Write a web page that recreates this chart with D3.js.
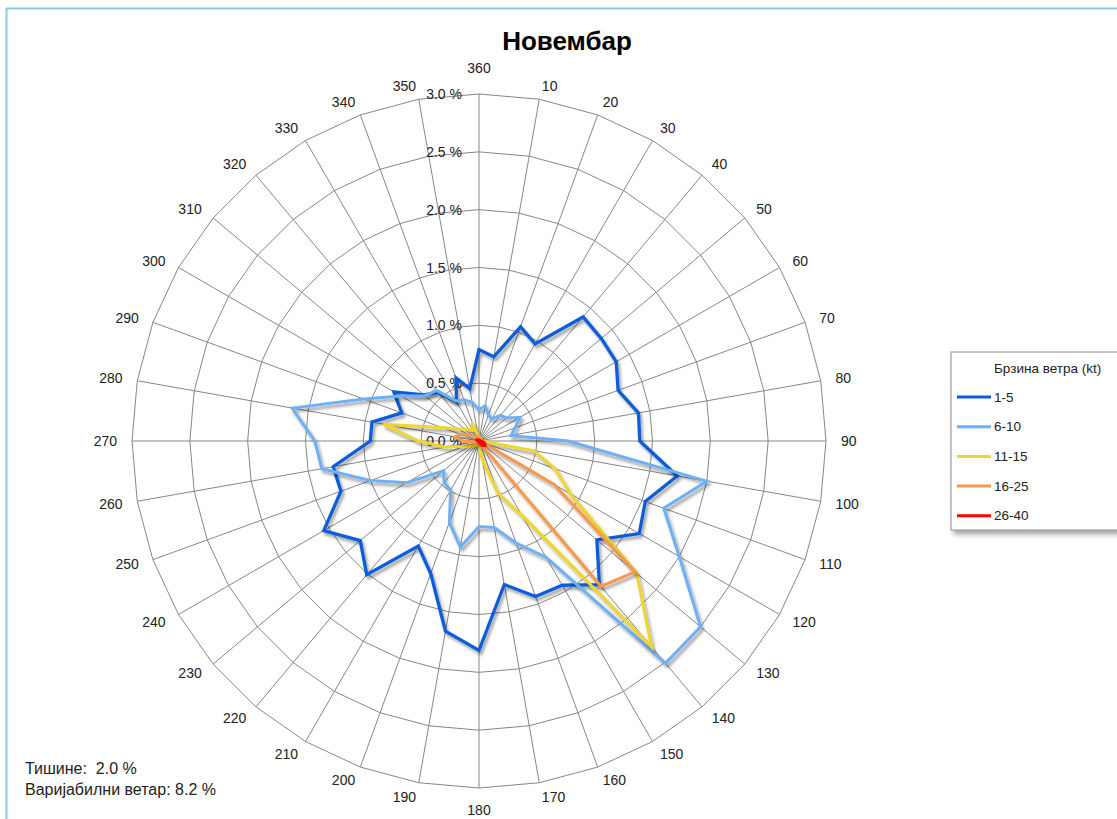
<!DOCTYPE html>
<html><head><meta charset="utf-8">
<script src="https://cdn.jsdelivr.net/npm/d3@7"></script>
<style>
body{margin:0;background:#fff;}
svg{display:block;font-family:"Liberation Sans",Arial,sans-serif;}
.pre{white-space:pre;}
</style></head><body>
<svg id="chart" width="1117" height="819"></svg>
<script>
// ---- data ----
const directions = [10,20,30,40,50,60,70,80,90,100,110,120,130,140,150,160,170,180,190,200,210,220,230,240,250,260,270,280,290,300,310,320,330,340,350,360];
const dirLabels = directions.map(d => String(d));
const radialTicks = [0, 0.5, 1.0, 1.5, 2.0, 2.5, 3.0];
const radialTickLabels = ["0.0 %","0.5 %","1.0 %","1.5 %","2.0 %","2.5 %","3.0 %"];
const seriesNames = ["1-5","6-10","11-15","16-25","26-40"];
const speed1_5   = [0.74,1.05,0.97,1.40,1.38,1.37,1.28,1.40,1.39,1.74,1.53,1.60,1.33,1.62,1.44,1.43,1.26,1.81,1.67,1.22,1.05,1.51,1.34,1.55,1.27,1.28,0.94,0.94,0.71,0.85,0.62,0.55,0.39,0.58,0.46,0.79];
const speed6_10  = [0.31,0.24,0.22,0.29,0.31,0.41,0.33,0.28,0.77,2.00,1.70,2.00,2.50,2.51,1.16,0.94,0.76,0.74,0.93,0.75,0.49,0.47,0.40,0.72,1.00,1.38,1.42,1.64,1.06,0.78,0.61,0.57,0.40,0.38,0.34,0.27];
const speed11_15 = [0.03,0.03,0.02,0.02,0.02,0.02,0.02,0.02,0.02,0.48,0.70,0.91,1.78,2.32,0.74,0.48,0.17,0.03,0.03,0.03,0.04,0.05,0.06,0.08,0.13,0.30,0.52,0.84,0.34,0.21,0.16,0.13,0.11,0.17,0.04,0.03];
const speed16_25 = [0.02,0.01,0.01,0.01,0.01,0.01,0.01,0.01,0.01,0.02,0.03,0.75,1.76,1.64,0.03,0.02,0.02,0.02,0.01,0.01,0.01,0.01,0.01,0.01,0.02,0.05,0.14,0.21,0.17,0.10,0.05,0.04,0.03,0.04,0.03,0.02];
const speed26_40 = [0.01,0.01,0.01,0.01,0.01,0.01,0.01,0.01,0.01,0.03,0.05,0.06,0.06,0.05,0.03,0.02,0.01,0.01,0.01,0.01,0.01,0.01,0.01,0.01,0.01,0.01,0.01,0.01,0.02,0.02,0.01,0.01,0.01,0.01,0.01,0.01];
const seriesValues = [speed1_5, speed6_10, speed11_15, speed16_25, speed26_40];
const seriesColors = ["#0a5cd9","#6db0f5","#f0d52c","#f7984b","#ff0000"];
const titleText = "Новембар";
const legendTitle = "Брзина ветра (kt)";
const noteLines = ["Тишине:  2.0 %", "Варијабилни ветар: 8.2 %"];

// ---- drawing ----
const svg = d3.select("#chart");
const cx = 479, cy = 441;
const r = d3.scaleLinear().domain([0, 3]).range([0, 347]);
const ang = d3.scaleLinear().domain([0, 360]).range([0, 2 * Math.PI]);

const defs = svg.append("defs");
const f = defs.append("filter").attr("id","sh").attr("x","-20%").attr("y","-20%").attr("width","140%").attr("height","140%");
f.append("feDropShadow").attr("dx",2).attr("dy",3).attr("stdDeviation",1.6).attr("flood-color","#000").attr("flood-opacity",0.38);
const f2 = defs.append("filter").attr("id","lsh").attr("x","-20%").attr("y","-20%").attr("width","140%").attr("height","140%");
f2.append("feDropShadow").attr("dx",3).attr("dy",4).attr("stdDeviation",2.5).attr("flood-color","#000").attr("flood-opacity",0.35);

// frame
svg.append("rect").attr("x",6.5).attr("y",8.5).attr("width",1200).attr("height",900)
  .attr("fill","none").attr("stroke","#8ccad9").attr("stroke-width",2);

// title
svg.append("text").attr("x",567).attr("y",50).attr("text-anchor","middle")
  .attr("font-size",26).attr("font-weight","bold").attr("fill","#000").text(titleText);

const g = svg.append("g").attr("transform", `translate(${cx},${cy})`);

// rings
const ringLine = d3.lineRadial().angle(d => ang(d)).curve(d3.curveLinearClosed);
radialTicks.filter(t => t > 0).forEach(t => {
  g.append("path")
    .attr("d", ringLine.radius(() => r(t))(directions))
    .attr("fill","none").attr("stroke","#878787").attr("stroke-width",1);
});
// spokes
g.selectAll("line.spoke").data(directions).join("line").attr("class","spoke")
  .attr("x1",0).attr("y1",0)
  .attr("x2", d => r(3) * Math.sin(ang(d)))
  .attr("y2", d => -r(3) * Math.cos(ang(d)))
  .attr("stroke","#878787").attr("stroke-width",1);

// radial tick labels
g.selectAll("text.rt").data(radialTicks).join("text").attr("class","rt")
  .attr("x", -17).attr("y", d => -r(d))
  .attr("text-anchor","end").attr("dominant-baseline","central")
  .attr("font-size",14).attr("fill","#222")
  .text((d,i) => radialTickLabels[i]);

// direction labels (placed just outside the outer ring, box anchored by side)
const sn = d => Math.sin(ang(d)), cs = d => Math.cos(ang(d));
const vertical = d => Math.abs(sn(d)) < 1e-6;
g.selectAll("text.dl").data(directions).join("text").attr("class","dl")
  .attr("x", d => r(3) * sn(d) + 15 * sn(d))
  .attr("y", d => -r(3) * cs(d) - (vertical(d) ? (cs(d) > 0 ? 26 : -22) : cs(d) * 14))
  .attr("text-anchor", d => vertical(d) ? "middle" : (sn(d) > 0 ? "start" : "end"))
  .attr("dominant-baseline","central")
  .attr("font-size",14).attr("fill","#222")
  .text((d,i) => dirLabels[i]);

// series
const seriesLine = d3.lineRadial()
  .angle((d,i) => ang(directions[i]))
  .radius(d => r(d))
  .curve(d3.curveLinearClosed);
seriesValues.forEach((vals, k) => {
  g.append("path").attr("d", seriesLine(vals))
    .attr("fill","none").attr("stroke", seriesColors[k]).attr("stroke-width", k === 0 ? 3.3 : 3)
    .attr("stroke-linejoin","miter").attr("filter","url(#sh)");
});

// legend
const lg = svg.append("g").attr("transform","translate(951,352)");
lg.append("rect").attr("x",0).attr("y",0).attr("width",200).attr("height",178)
  .attr("fill","#fff").attr("stroke","#8a8a8a").attr("stroke-width",1).attr("filter","url(#lsh)");
lg.append("text").attr("x",43).attr("y",16).attr("dominant-baseline","central")
  .attr("font-size",13.5).attr("fill","#222").text(legendTitle);
seriesNames.forEach((n, k) => {
  const y = 45 + k * 29.7;
  lg.append("line").attr("x1",6).attr("x2",40).attr("y1",y).attr("y2",y)
    .attr("stroke", seriesColors[k]).attr("stroke-width",3);
  lg.append("text").attr("x",43).attr("y",y).attr("dominant-baseline","central")
    .attr("font-size",13.5).attr("fill","#222").text(n);
});

// notes
noteLines.forEach((t, i) => {
  svg.append("text").attr("class","pre").attr("x",25).attr("y",768 + i * 21.5).attr("dominant-baseline","central")
    .attr("font-size",16).attr("fill","#222").text(t);
});
</script>
</body></html>
